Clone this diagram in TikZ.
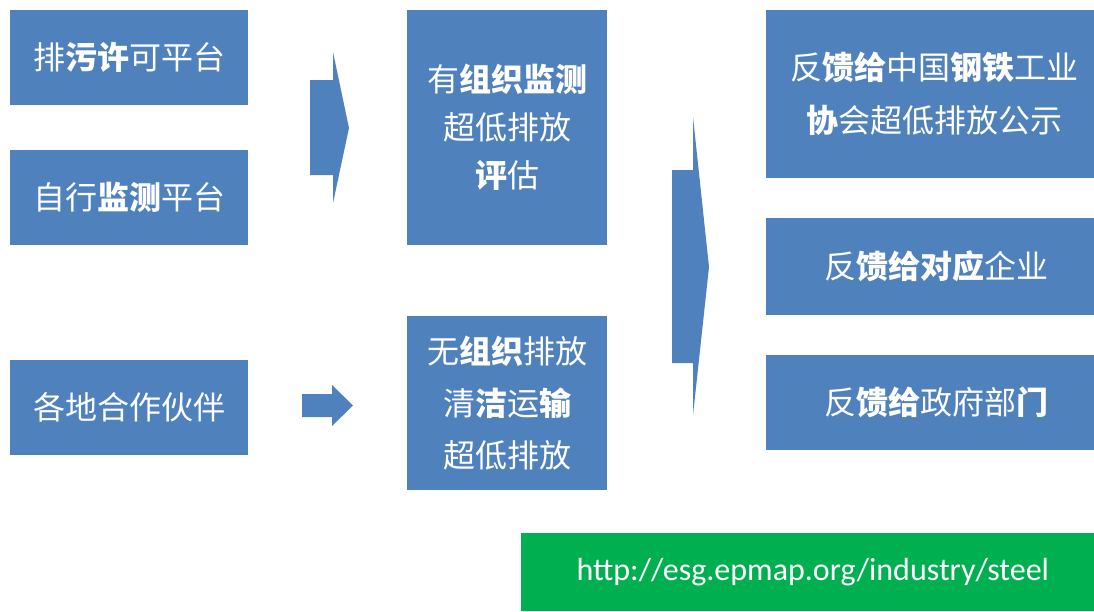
\documentclass[tikz,border=0pt]{standalone}
\usepackage{fontspec}
\newfontfamily\cjk{Noto Sans CJK SC}
\newfontfamily\urlfont{Carlito}
\definecolor{boxblue}{HTML}{4F81BD}
\definecolor{urlgreen}{HTML}{00B050}
\newcommand{\bb}[1]{{\bfseries #1}}
\begin{document}
\begin{tikzpicture}[x=0.75pt,y=-0.75pt,
  box/.style={fill=boxblue, draw=none, text=white, align=center, inner sep=0pt,
    font=\cjk\fontsize{24}{36}\selectfont},
  arrowshape/.style={fill=boxblue, draw=none}]
\useasboundingbox (0,0) rectangle (1094,611);
% left column
\node[box, minimum width=178.5pt, minimum height=71.25pt] (b1) at (129,57.5) {排\bb{污许}可平台};
\node[box, minimum width=178.5pt, minimum height=71.25pt] (b2) at (129,197.5) {自行\bb{监测}平台};
\node[box, minimum width=178.5pt, minimum height=71.25pt] (b3) at (129,407.5) {各地合作伙伴};
% middle column
\node[box, minimum width=150pt, minimum height=176.25pt] (b4) at (507,127.5)
  {有\bb{组织监测}\\ 超低排放\\ \bb{评}估};
\node[box, minimum width=150pt, minimum height=130.5pt,
  font=\cjk\fontsize{24}{39}\selectfont] (b5) at (507,403)
  {无\bb{组织}排放\\ 清\bb{洁}运\bb{输}\\ 超低排放};
% right column
\node[box, minimum width=246pt, minimum height=126pt,
  font=\cjk\fontsize{24}{40}\selectfont] (b6) at (930,94)
  {\hspace*{6pt}反\bb{馈给}中国\bb{钢铁}工业\\ \hspace*{6pt}\bb{协}会超低排放公示};
\node[box, minimum width=246pt, minimum height=72.75pt] (b7) at (930,266.5) {\hspace*{9pt}反\bb{馈给对应}企业};
\node[box, minimum width=246pt, minimum height=71.25pt] (b8) at (930,402.5) {\hspace*{9pt}反\bb{馈给}政府部\bb{门}};
% url
\node[fill=urlgreen, text=white, minimum width=429.75pt, minimum height=58.5pt, inner sep=0pt,
  font=\urlfont\fontsize{24}{28}\selectfont] (url) at (807.5,572) {\hspace*{8pt}\raisebox{-3pt}{http://esg.epmap.org/industry/steel}};
% arrows
\fill[arrowshape] (310,80) -- (333,80) -- (333,52) -- (349,128) -- (333,203) -- (333,175) -- (310,175) -- cycle;
\fill[arrowshape] (302,394) -- (332,394) -- (332,385) -- (353,405.5) -- (332,426) -- (332,417) -- (302,417) -- cycle;
\fill[arrowshape] (672,170) -- (693,170) -- (693,117) -- (709,267) -- (693,415) -- (693,363) -- (672,363) -- cycle;
\end{tikzpicture}
\end{document}
